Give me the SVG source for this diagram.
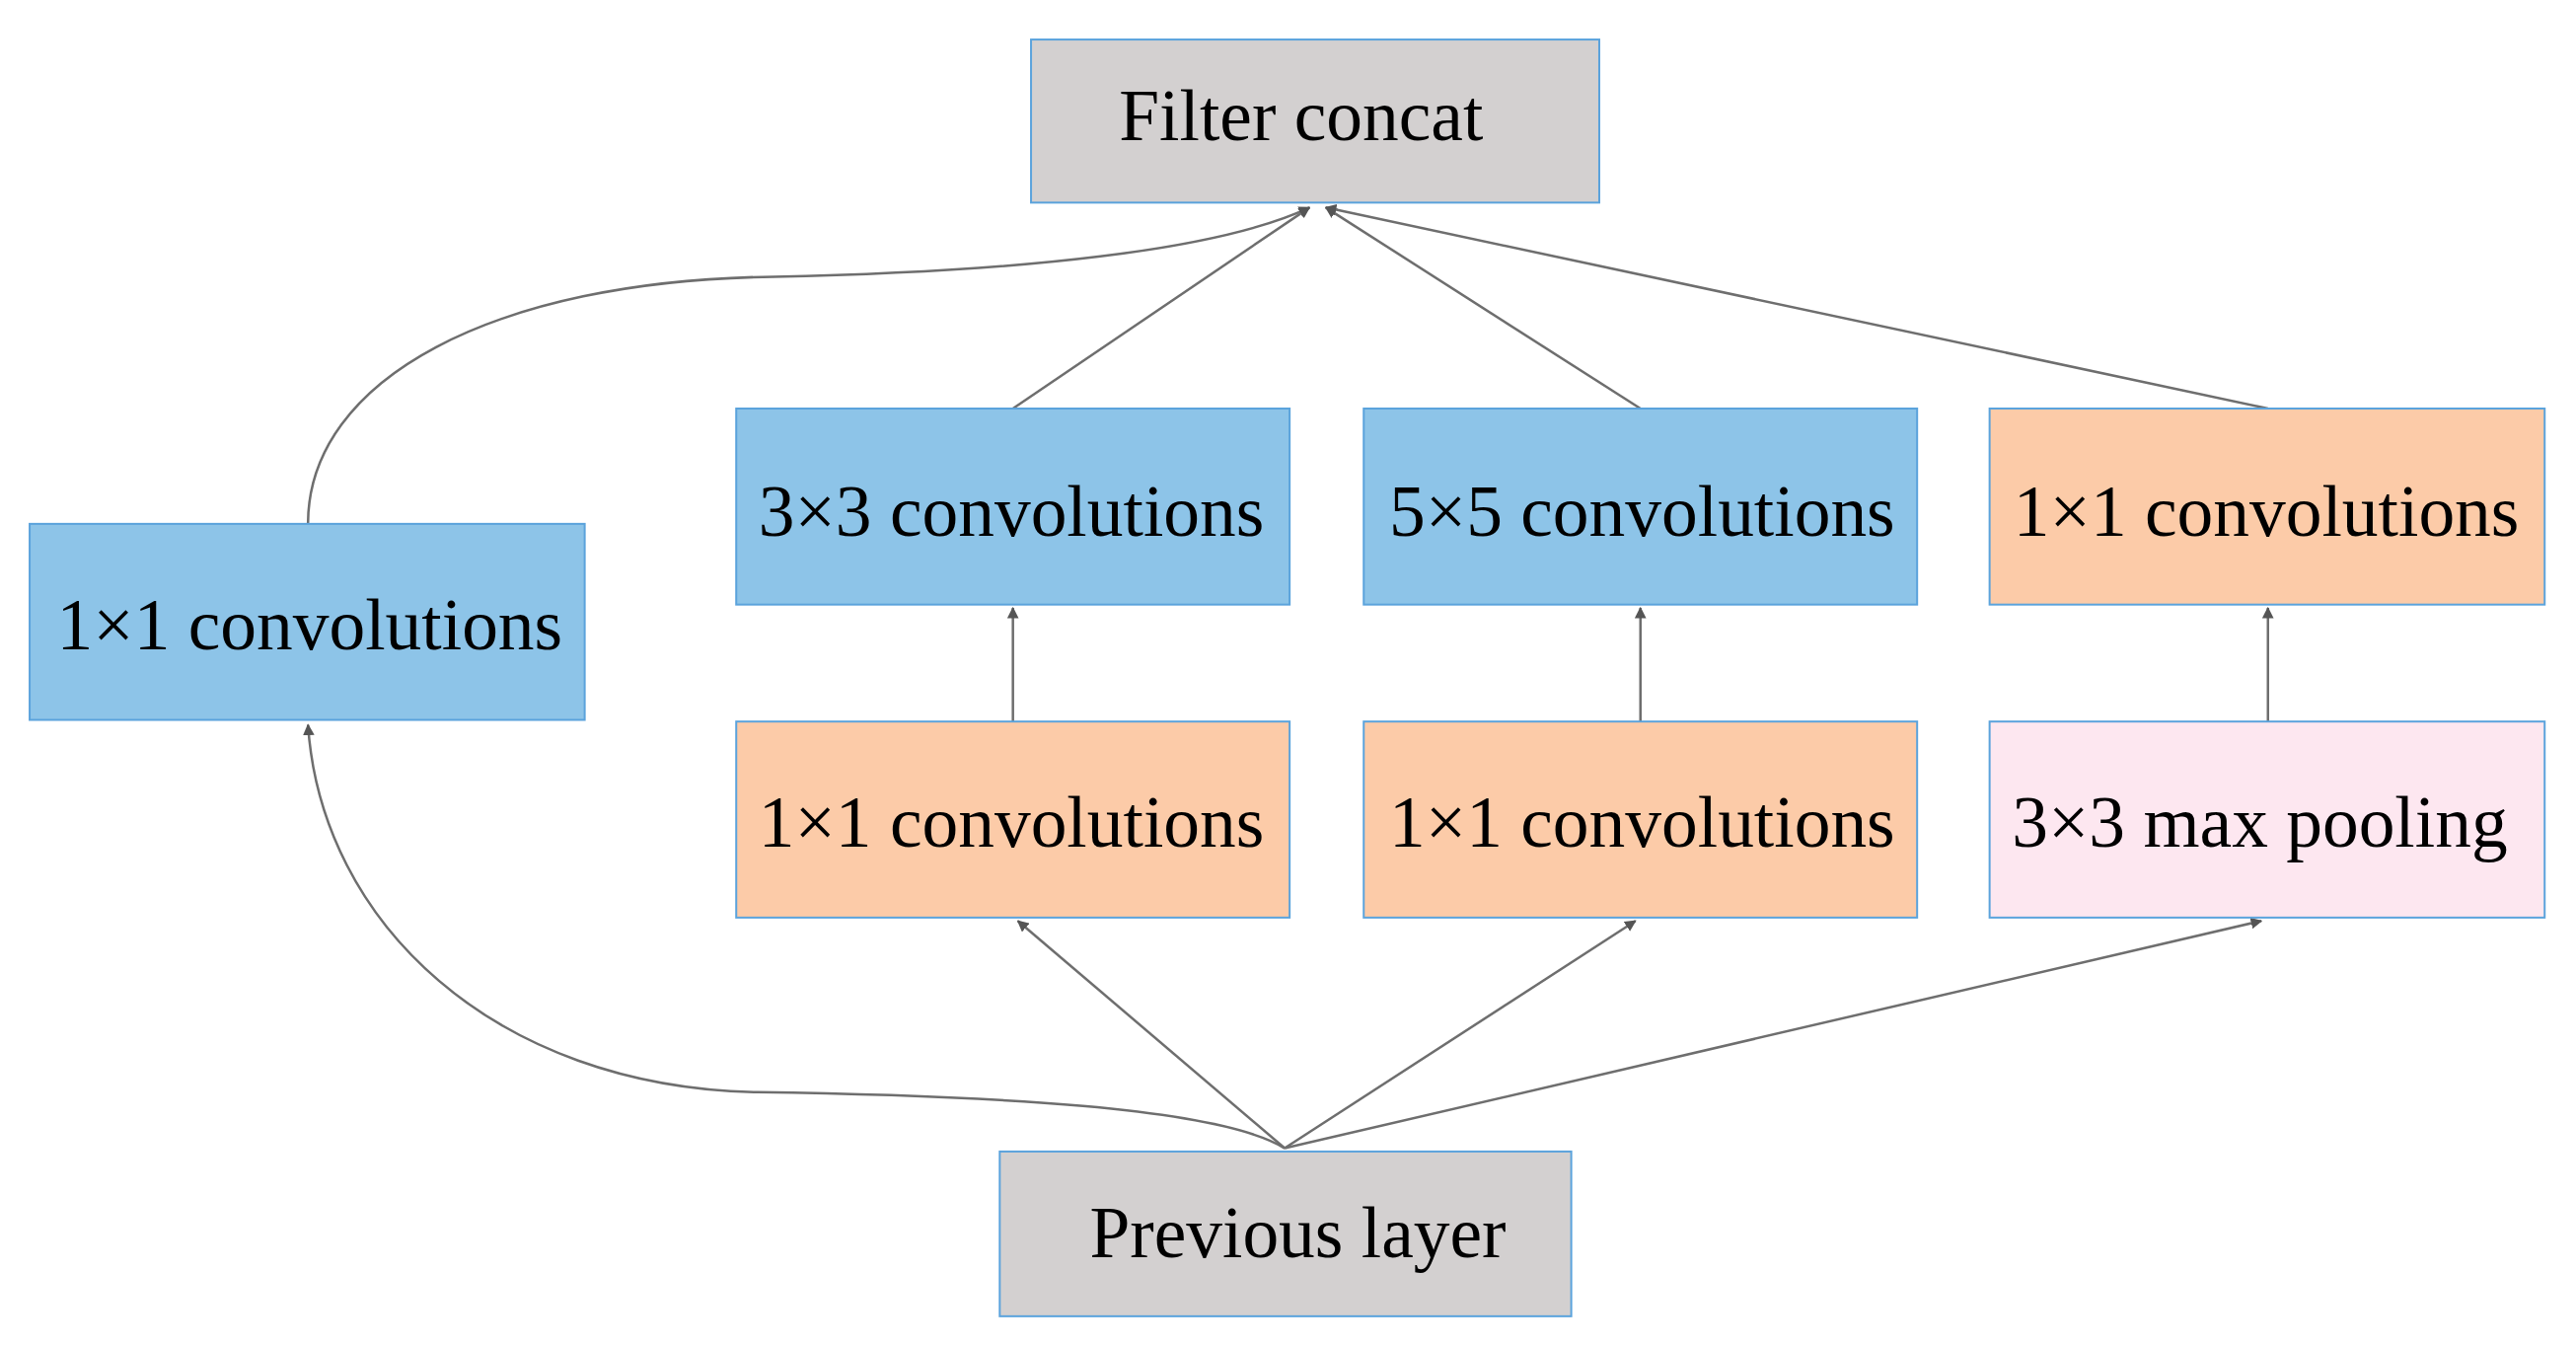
<svg xmlns="http://www.w3.org/2000/svg" width="2611" height="1364" viewBox="0 0 2611 1364">
<style>
.b{stroke:#5ba3dc;stroke-width:1.2}
.g{fill:#d3d0d0}.bl{fill:#8dc4e8}.o{fill:#fccba8}.p{fill:#fde7f0}
text{font-family:"Liberation Serif","Times New Roman",serif;font-size:44px;fill:#000;text-anchor:middle}
.c{fill:none;stroke:#6e6e6e;stroke-width:1.5;marker-end:url(#a)}
</style>
<defs><marker id="a" viewBox="0 0 10 10" refX="9" refY="5" markerWidth="7" markerHeight="7" markerUnits="userSpaceOnUse" orient="auto"><path d="M0,0L10,5L0,10z" fill="#555"/></marker></defs>
<rect width="2611" height="1364" fill="#fff"/>
<g transform="scale(1.6694)">
<g id="connectors">
<path class="c" d="M187,318 C187,230 300,170 470,168 C620,165 740,152 795,126"/>
<path class="c" d="M615,248 L795,126"/>
<path class="c" d="M996,248 L805,126"/>
<path class="c" d="M1377,248 L805,126"/>
<path class="c" d="M615,438 L615,369"/>
<path class="c" d="M996,438 L996,369"/>
<path class="c" d="M1377,438 L1377,369"/>
<path class="c" d="M780,697 L618,559"/>
<path class="c" d="M780,697 L993,559"/>
<path class="c" d="M780,697 L1373,559"/>
<path class="c" d="M780,697 C740,672 600,665 460,663 C300,660 195,560 187,440"/>
</g>
<g id="concat"><rect class="b g" x="626" y="24" width="345" height="99"/><text x="790" y="85">Filter concat</text></g>
<g id="left1x1"><rect class="b bl" x="18" y="318" width="337" height="119"/><text x="188" y="394">1×1 convolutions</text></g>
<g id="c3x3"><rect class="b bl" x="447" y="248" width="336" height="119"/><text x="614" y="325">3×3 convolutions</text></g>
<g id="c5x5"><rect class="b bl" x="828" y="248" width="336" height="119"/><text x="997" y="325">5×5 convolutions</text></g>
<g id="r1x1top"><rect class="b o" x="1208" y="248" width="337" height="119"/><text x="1376" y="325">1×1 convolutions</text></g>
<g id="m1x1a"><rect class="b o" x="447" y="438" width="336" height="119"/><text x="614" y="514">1×1 convolutions</text></g>
<g id="m1x1b"><rect class="b o" x="828" y="438" width="336" height="119"/><text x="997" y="514">1×1 convolutions</text></g>
<g id="pool"><rect class="b p" x="1208" y="438" width="337" height="119"/><text x="1372" y="514">3×3 max pooling</text></g>
<g id="prev"><rect class="b g" x="607" y="699" width="347" height="100"/><text x="788" y="763">Previous layer</text></g>
</g>
</svg>
